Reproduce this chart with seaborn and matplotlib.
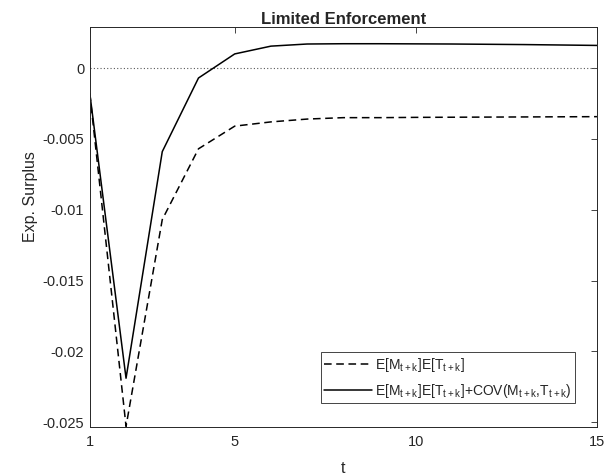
import matplotlib
matplotlib.use("Agg")
import matplotlib.pyplot as plt
import numpy as np
import pandas as pd
import seaborn as sns
from matplotlib.lines import Line2D

# values
t = list(range(1, 16))
surplus_prod = [-0.0018, -0.0253, -0.0107, -0.0057, -0.0041, -0.0038, -0.0036, -0.0035,
                -0.0035, -0.00348, -0.00347, -0.00346, -0.00345, -0.00344, -0.00343]
surplus_cov = [-0.0018, -0.0219, -0.0059, -0.0007, 0.0010, 0.00155, 0.0017, 0.00172,
               0.00172, 0.00171, 0.0017, 0.00168, 0.00166, 0.00163, 0.0016]
labels = [r"E[M$_{t+k}$]E[T$_{t+k}$]",
          r"E[M$_{t+k}$]E[T$_{t+k}$]+COV(M$_{t+k}$,T$_{t+k}$)"]
yticks = [0, -0.005, -0.01, -0.015, -0.02, -0.025]
yticklabels = ["0", "-0.005", "-0.01", "-0.015", "-0.02", "-0.025"]
xticks = [1, 5, 10, 15]

sns.set_style("white")
plt.rcParams["font.family"] = ["Liberation Sans", "DejaVu Sans"]
plt.rcParams["mathtext.default"] = "regular"
plt.rcParams["font.size"] = 10

df = pd.DataFrame({
    "t": t * 2,
    "value": surplus_prod + surplus_cov,
    "series": [labels[0]] * len(t) + [labels[1]] * len(t),
})

fig = plt.figure(figsize=(6.11, 4.74), dpi=100)
ax = fig.add_axes([0.147, 0.099, 0.83, 0.844])

ax.axhline(0, color="0.35", ls=(0, (1, 2)), lw=0.8)
sns.lineplot(data=df, x="t", y="value", style="series", color="k",
             dashes={labels[0]: (5, 3), labels[1]: ""},
             lw=1.1, legend=False, ax=ax)

ax.set_xlim(1, 15)
ax.set_ylim(-0.02535, 0.0029)
ax.set_xticks(xticks)
ax.set_xticklabels([str(v) for v in xticks])
ax.set_yticks(yticks)
ax.set_yticklabels(yticklabels)
ax.tick_params(direction="in", length=4, width=0.6, colors="0.15",
               top=True, right=True, labelsize=10.5)
ax.tick_params(axis="x", pad=6)
ax.tick_params(axis="y", pad=4)
for s in ax.spines.values():
    s.set_color("0.15")
    s.set_linewidth(0.7)
ax.set_xlabel("t", fontsize=11.5, color="0.15", labelpad=8)
ax.set_ylabel("Exp. Surplus", fontsize=11.5, color="0.15")
ax.yaxis.set_label_coords(-0.103, 0.575)
ax.set_title("Limited Enforcement", fontsize=12, fontweight="bold", pad=2)

handles = [Line2D([], [], color="k", lw=1.1, ls=(0, (5, 3))),
           Line2D([], [], color="k", lw=1.1)]
leg = ax.legend(handles, labels, loc="lower right", bbox_to_anchor=(0.957, 0.06),
                borderaxespad=0, fontsize=10, frameon=True, fancybox=False,
                framealpha=1, edgecolor="0.15", handlelength=3.4,
                handletextpad=0.25, borderpad=0.25, labelspacing=0.55)
leg.get_frame().set_linewidth(0.6)

fig.savefig("out.png", dpi=100)
